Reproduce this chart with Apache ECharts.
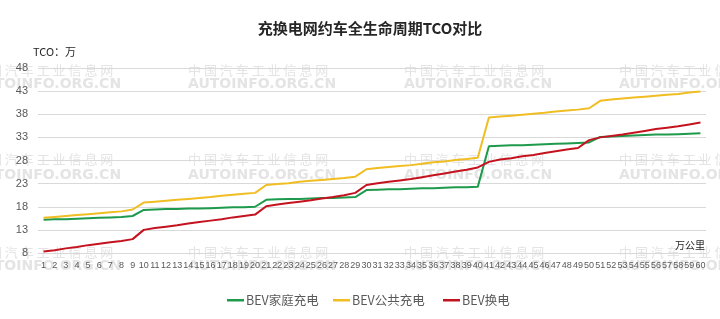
<!DOCTYPE html>
<html>
<head>
<meta charset="utf-8">
<script src="https://cdn.jsdelivr.net/npm/echarts@6/dist/echarts.min.js"></script>
<style>
html,body{margin:0;padding:0;background:#fff;}
#chart{width:720px;height:319px;}
</style>
</head>
<body>
<div id="chart"></div>
<script>
var categories = [];
for (var i = 1; i <= 60; i++) { categories.push(String(i)); }

var seriesNames = ['BEV家庭充电', 'BEV公共充电', 'BEV换电'];

var homeCharge = [
  15.2, 15.3, 15.3, 15.4, 15.5, 15.6, 15.7, 15.8, 16.0,
  17.3, 17.4, 17.5, 17.5, 17.6, 17.6, 17.7, 17.8, 17.9, 17.9, 18.0,
  19.5, 19.6, 19.7, 19.7, 19.8, 19.9, 19.9, 20.0, 20.1,
  21.6, 21.7, 21.8, 21.8, 21.9, 22.0, 22.0, 22.1, 22.2, 22.2, 22.3,
  31.1, 31.2, 31.3, 31.3, 31.4, 31.5, 31.6, 31.7, 31.8, 31.9,
  33.1, 33.2, 33.3, 33.4, 33.5, 33.6, 33.6, 33.7, 33.8, 33.9
];
var publicCharge = [
  15.6, 15.8, 16.0, 16.2, 16.4, 16.6, 16.8, 17.0, 17.4,
  18.9, 19.1, 19.3, 19.5, 19.7, 19.9, 20.1, 20.4, 20.6, 20.8, 21.0,
  22.7, 22.9, 23.1, 23.4, 23.6, 23.8, 24.0, 24.2, 24.5,
  26.1, 26.4, 26.6, 26.8, 27.0, 27.3, 27.6, 27.8, 28.1, 28.3, 28.6,
  37.3, 37.5, 37.7, 37.9, 38.1, 38.3, 38.6, 38.8, 39.0, 39.3,
  40.9, 41.2, 41.4, 41.6, 41.8, 42.0, 42.2, 42.4, 42.7, 42.9
];
var batterySwap = [
  8.3, 8.6, 9.0, 9.3, 9.7, 10.0, 10.3, 10.6, 11.0,
  13.0, 13.4, 13.7, 14.0, 14.4, 14.7, 15.0, 15.3, 15.7, 16.0, 16.3,
  18.1, 18.5, 18.8, 19.1, 19.4, 19.8, 20.1, 20.5, 21.0,
  22.7, 23.1, 23.4, 23.7, 24.0, 24.4, 24.8, 25.2, 25.6, 26.0, 26.5,
  27.7, 28.2, 28.5, 28.9, 29.2, 29.6, 30.0, 30.4, 30.7, 32.4,
  33.0, 33.3, 33.6, 34.0, 34.4, 34.8, 35.1, 35.4, 35.8, 36.2
];

var titleText = '充换电网约车全生命周期TCO对比';
var yUnitText = 'TCO：万';
var xUnitText = '万公里';
var wmCn = '中 国 汽 车 工 业 信 息 网';
var wmEn = 'AUTOINFO.ORG.CN';

var colors = ['#1e9a4c', '#f0bd22', '#c4121f'];

var graphics = [];
var wmCols = [-27, 188, 404, 619];
var wmRowsCn = [70, 159, 252];
var wmRowsEn = [84, 175, 266];
wmCols.forEach(function (x) {
  wmRowsCn.forEach(function (y) {
    graphics.push({ type: 'text', x: x, y: y, z: -10, zlevel: 0, silent: true,
      style: { text: wmCn, fill: '#e4e4e4', fontSize: 13, fontFamily: 'Noto Sans CJK SC', textAlign: 'left', textVerticalAlign: 'middle' } });
  });
  wmRowsEn.forEach(function (y) {
    graphics.push({ type: 'text', x: x, y: y, z: -10, zlevel: 0, silent: true,
      style: { text: wmEn, fill: '#e4e4e4', fontSize: 14, fontWeight: 'bold', fontFamily: 'DejaVu Sans', textAlign: 'left', textVerticalAlign: 'middle' } });
  });
});
graphics.push({ type: 'text', x: 370, y: 28, z: 10,
  style: { text: titleText, fill: '#262626', fontSize: 15, fontWeight: 'bold', fontFamily: 'Noto Sans CJK SC', textAlign: 'center', textVerticalAlign: 'middle' } });
graphics.push({ type: 'text', x: 33, y: 52, z: 10,
  style: { text: yUnitText, fill: '#262626', fontSize: 11, fontFamily: 'Noto Sans CJK SC', textAlign: 'left', textVerticalAlign: 'middle' } });
graphics.push({ type: 'text', x: 675, y: 245, z: 10,
  style: { text: xUnitText, fill: '#262626', fontSize: 10, fontFamily: 'Noto Sans CJK SC', textAlign: 'left', textVerticalAlign: 'middle' } });

var legendLefts = [222, 328, 438];
var legends = seriesNames.map(function (name, k) {
  return {
    data: [name],
    top: 289,
    left: legendLefts[k],
    icon: 'rect',
    itemWidth: 17,
    itemHeight: 2.5,
    textStyle: { color: '#595959', fontSize: 12.5, fontFamily: 'Noto Sans CJK SC', padding: [0, 0, 0, -3] }
  };
});

var chart = echarts.init(document.getElementById('chart'), null, { renderer: 'canvas' });
chart.setOption({
  animation: false,
  backgroundColor: '#ffffff',
  color: colors,
  graphic: graphics,
  grid: { left: 38, right: 14, top: 68, bottom: 66, containLabel: false },
  legend: legends,
  xAxis: {
    type: 'category',
    data: categories,
    boundaryGap: true,
    z: 5,
    axisLine: { show: true, lineStyle: { color: '#d9d9d9', width: 1 } },
    axisTick: { show: false },
    axisLabel: { interval: 0, color: '#595959', fontSize: 9, margin: 8, fontFamily: 'Liberation Sans Narrow, Liberation Sans, sans-serif' },
    splitLine: { show: false }
  },
  yAxis: {
    type: 'value',
    min: 8,
    max: 48,
    interval: 5,
    z: 5,
    axisLine: { show: false },
    axisTick: { show: false },
    axisLabel: { color: '#595959', fontSize: 11, margin: 10, fontFamily: 'Liberation Sans, sans-serif' },
    splitLine: { show: true, lineStyle: { color: '#d9d9d9', width: 1 } }
  },
  series: [
    { name: seriesNames[0], type: 'line', data: homeCharge, symbol: 'none', z: 6, lineStyle: { width: 2, color: colors[0] } },
    { name: seriesNames[1], type: 'line', data: publicCharge, symbol: 'none', z: 6, lineStyle: { width: 2, color: colors[1] } },
    { name: seriesNames[2], type: 'line', data: batterySwap, symbol: 'none', z: 6, lineStyle: { width: 2, color: colors[2] } }
  ]
});
</script>
</body>
</html>
